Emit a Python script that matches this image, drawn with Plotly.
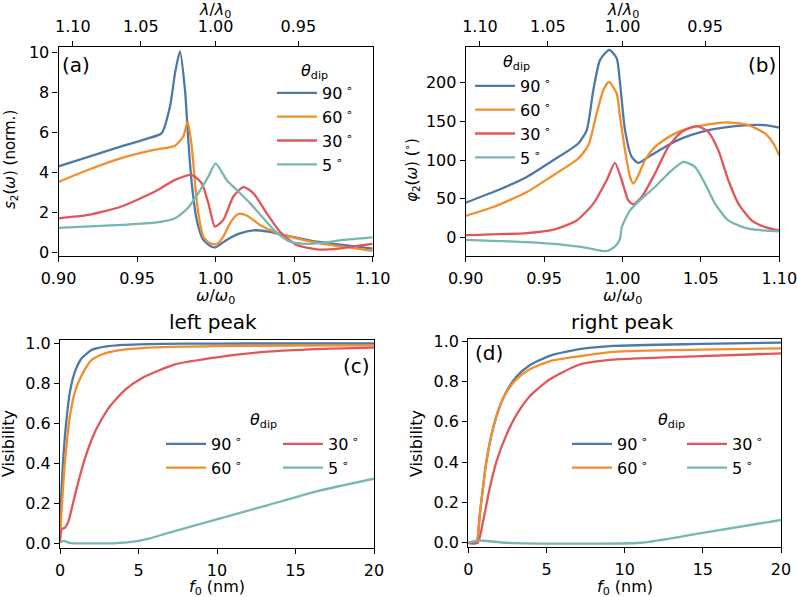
import plotly.graph_objects as go

# colours per dipole angle
colors = {"90": "#4e79a7", "60": "#f28e2b", "30": "#e15759", "5": "#76b7b2"}
angles = ["90", "60", "30", "5"]

# (a) s2(omega), normalised
a_w_90 = [0.90, 0.92, 0.94, 0.955, 0.9657, 0.971, 0.9742, 0.9773, 0.9805, 0.9826, 0.9848, 0.988, 0.9922, 0.9975,
          1.000, 1.007, 1.0155, 1.024, 1.0335, 1.041, 1.052, 1.0644, 1.081, 1.10]
a_s_90 = [4.3, 4.8, 5.3, 5.65, 5.96, 7.3, 8.97, 10.05, 8.13, 5.63, 3.46, 1.62, 0.62, 0.28,
          0.25, 0.62, 0.95, 1.1, 1.03, 0.9, 0.72, 0.53, 0.37, 0.18]
a_w_60 = [0.90, 0.919, 0.94, 0.9614, 0.9742, 0.9795, 0.9822, 0.9848, 0.9869, 0.989, 0.9922, 0.9964, 1.0007,
          1.005, 1.0095, 1.0145, 1.0198, 1.0283, 1.0389, 1.0516, 1.0665, 1.081, 1.10]
a_s_60 = [3.52, 4.13, 4.71, 5.13, 5.33, 5.8, 6.55, 5.3, 3.46, 1.95, 0.78, 0.45, 0.4,
          0.8, 1.5, 1.92, 1.84, 1.37, 0.98, 0.7, 0.45, 0.28, 0.07]
a_w_30 = [0.90, 0.919, 0.94, 0.9614, 0.9742, 0.9848, 0.9911, 0.9954, 0.9996, 1.0049, 1.0113, 1.0176, 1.024,
          1.0325, 1.041, 1.0516, 1.0644, 1.077, 1.0898, 1.10]
a_s_30 = [1.7, 1.87, 2.29, 3.04, 3.62, 3.87, 3.46, 2.46, 1.28, 1.62, 2.79, 3.26, 2.96,
          1.95, 1.03, 0.37, 0.15, 0.17, 0.32, 0.42]
a_w_5 = [0.90, 0.94, 0.9614, 0.9742, 0.9822, 0.989, 0.9954, 1.0, 1.007, 1.0134, 1.0219, 1.0304, 1.0389,
         1.0474, 1.058, 1.0686, 1.081, 1.10]
a_s_5 = [1.22, 1.37, 1.48, 1.7, 2.2, 2.96, 3.79, 4.45, 3.62, 3.12, 2.46, 1.7, 0.98,
         0.53, 0.42, 0.48, 0.62, 0.75]

# (b) phi2(omega), degrees
b_w_90 = [0.90, 0.9176, 0.939, 0.9559, 0.9718, 0.9772, 0.9814, 0.9857, 0.9916, 0.9963, 0.9984, 1.0016, 1.0059,
          1.0101, 1.0165, 1.0271, 1.0378, 1.0505, 1.0654, 1.0802, 1.0909, 1.10]
b_p_90 = [45, 58.7, 78.2, 99.8, 121.4, 138.7, 190.5, 229.4, 242.4, 231.6, 200, 138.7, 104,
          96.3, 104, 117, 128, 136.5, 142.2, 145.2, 145, 142]
b_w_60 = [0.90, 0.9176, 0.939, 0.9559, 0.9718, 0.9782, 0.9835, 0.9878, 0.9914, 0.9963, 0.9984, 1.0016, 1.0048,
          1.0069, 1.0101, 1.0143, 1.0207, 1.0314, 1.0441, 1.0654, 1.0802, 1.0909, 1.0962, 1.10]
b_p_60 = [28, 39.3, 58.7, 80.4, 102, 119, 160, 190.5, 201, 186, 156, 112.8, 78.2,
          69.6, 80.4, 99.8, 117, 132.2, 142.2, 148.7, 145.2, 134.4, 121.4, 106]
b_w_30 = [0.90, 0.939, 0.9559, 0.9708, 0.9814, 0.9899, 0.9952, 0.9995, 1.0037, 1.0069, 1.0122, 1.0207, 1.0292,
          1.0378, 1.0473, 1.0547, 1.0611, 1.0675, 1.0739, 1.0824, 1.0909, 1.10]
b_p_30 = [3, 5.6, 10, 22, 43.7, 73.9, 96.3, 73.9, 48, 42.8, 52.2, 82.6, 117,
          136.5, 143.9, 136.5, 112.8, 73.9, 43.7, 22, 13.4, 9]
b_w_5 = [0.90, 0.939, 0.9601, 0.9772, 0.9899, 0.9952, 0.9984, 0.9995, 1.0048, 1.0122, 1.0207, 1.0292, 1.0388,
         1.0462, 1.0526, 1.059, 1.0675, 1.0802, 1.10]
b_p_5 = [-3, -6, -9, -13.4, -17.7, -11.7, -2, 13.4, 35, 50.2, 65.2, 82.6, 97.6,
         91.1, 69.6, 43.7, 22, 11.3, 7.8]

# (c) visibility, left peak
c_f_90 = [0, 0.11, 0.32, 0.64, 0.96, 1.38, 2.02, 2.87, 4.0, 5.0, 8, 12, 16, 20]
c_v_90 = [0.05, 0.29, 0.54, 0.76, 0.86, 0.925, 0.967, 0.983, 0.992, 0.995, 0.998, 0.999, 0.999, 0.999]
c_f_60 = [0, 0.11, 0.32, 0.64, 0.96, 1.38, 2.02, 2.87, 3.93, 6.05, 10, 15, 20]
c_v_60 = [0.02, 0.175, 0.41, 0.64, 0.76, 0.84, 0.917, 0.95, 0.967, 0.98, 0.986, 0.988, 0.99]
c_f_30 = [0, 0.1, 0.32, 0.53, 0.85, 1.17, 1.59, 2.23, 3.08, 4.14, 5.2, 6.48, 7.32, 9.98, 13.2, 16.35, 20]
c_v_30 = [0.0, 0.07, 0.078, 0.108, 0.208, 0.308, 0.425, 0.558, 0.675, 0.767, 0.825, 0.87, 0.895,
          0.93, 0.958, 0.971, 0.978]
c_f_5 = [0, 0.25, 0.6, 1, 2, 3.4, 4.67, 5.73, 6.8, 9.98, 13.2, 16.35, 20]
c_v_5 = [0.005, 0.012, 0.002, 0.0, 0.0, 0.0, 0.008, 0.025, 0.05, 0.12, 0.19, 0.26, 0.323]

# (d) visibility, right peak
d_f_90 = [0, 0.51, 0.73, 1.15, 1.58, 2.0, 2.43, 3.07, 3.93, 5.2, 7.12, 9.27, 14.9, 20]
d_v_90 = [0, 0, 0.137, 0.40, 0.567, 0.674, 0.749, 0.823, 0.88, 0.927, 0.96, 0.976, 0.986, 0.993]
d_f_60 = [0, 0.51, 0.73, 1.15, 1.58, 2.0, 2.43, 3.07, 3.93, 5.2, 7.12, 9.27, 14.9, 20]
d_v_60 = [0, 0, 0.137, 0.40, 0.567, 0.674, 0.745, 0.81, 0.86, 0.90, 0.925, 0.947, 0.958, 0.964]
d_f_30 = [0, 0.6, 0.94, 1.37, 1.79, 2.43, 3.07, 3.93, 5.2, 7.12, 9.27, 14.9, 20]
d_v_30 = [0, 0, 0.104, 0.27, 0.40, 0.534, 0.633, 0.727, 0.81, 0.884, 0.908, 0.926, 0.939]
d_f_5 = [0, 0.5, 1.0, 2.5, 11, 14.8, 20]
d_v_5 = [0, 0.01, 0.01, 0.0, 0.0, 0.047, 0.113]

lam_ticks = [1.10, 1.05, 1.00, 0.95]

W, H = 797, 597
FONT = "DejaVu Sans"


def px(x):
    return x / W


def py(y):
    return 1 - y / H


panels = {
    "a": ([a_w_90, a_w_60, a_w_30, a_w_5], [a_s_90, a_s_60, a_s_30, a_s_5], "x", "y", ["legend"] * 4),
    "b": ([b_w_90, b_w_60, b_w_30, b_w_5], [b_p_90, b_p_60, b_p_30, b_p_5], "x2", "y2", ["legend2"] * 4),
    "c": ([c_f_90, c_f_60, c_f_30, c_f_5], [c_v_90, c_v_60, c_v_30, c_v_5], "x3", "y3",
          ["legend3", "legend3", "legend4", "legend4"]),
    "d": ([d_f_90, d_f_60, d_f_30, d_f_5], [d_v_90, d_v_60, d_v_30, d_v_5], "x4", "y4",
          ["legend5", "legend5", "legend6", "legend6"]),
}

fig = go.Figure()
for key, (xs, ys, xa, ya, legs) in panels.items():
    for ang, xv, yv, lg in zip(angles, xs, ys, legs):
        fig.add_trace(go.Scatter(
            x=xv, y=yv, xaxis=xa, yaxis=ya, mode="lines",
            line=dict(color=colors[ang], width=2.3, shape="spline", smoothing=0.6),
            name=f"{ang}\u2009<sup>∘</sup>", legend=lg, legendgroup=key + ang,
            hoverinfo="skip"))

# helper traces so the top wavelength axes are drawn
fig.add_trace(go.Scatter(x=[a_w_90[0], a_w_90[-1]], y=[None, None], xaxis="x5", yaxis="y",
                         showlegend=False, hoverinfo="skip"))
fig.add_trace(go.Scatter(x=[b_w_90[0], b_w_90[-1]], y=[None, None], xaxis="x6", yaxis="y2",
                         showlegend=False, hoverinfo="skip"))

tickfont = dict(family=FONT, size=16, color="black")
base = dict(showline=True, linecolor="black", linewidth=1.1, mirror=True, ticks="outside",
            ticklen=5, tickwidth=1.1, tickcolor="black", showgrid=False, zeroline=False,
            tickfont=tickfont, automargin=False, ticklabeloverflow="allow")
xbase = dict(base, ticklabelstandoff=3)
top = dict(ticks="outside", ticklen=5, tickwidth=1.1, tickcolor="black", showgrid=False,
           zeroline=False, showline=False, tickfont=tickfont, automargin=False,
           ticklabeloverflow="allow", ticklabelstandoff=2)

dom_a = [px(58.5), px(372.7)]
dom_b = [px(465.7), px(779.3)]
dom_c = [px(60), px(374)]
dom_d = [px(468.3), px(781)]
ydom_top = [py(255.5), py(46.5)]
ydom_c = [py(547.5), py(339.5)]
ydom_d = [py(547), py(338.5)]

top_vals = [1 / v for v in lam_ticks]
top_text = [f"{v:.2f}" for v in lam_ticks]

fig.update_layout(
    width=W, height=H, margin=dict(l=0, r=0, t=0, b=0, autoexpand=False),
    paper_bgcolor="white", plot_bgcolor="white",
    font=dict(family=FONT, size=16, color="black"),
    xaxis=dict(xbase, domain=dom_a, anchor="y", range=[0.9, 1.1], tickvals=[0.9, 0.95, 1.0, 1.05, 1.1],
               tickformat=".2f"),
    yaxis=dict(base, domain=ydom_top, anchor="x", range=[-0.16, 10.29], dtick=2),
    xaxis2=dict(xbase, domain=dom_b, anchor="y2", range=[0.9, 1.1], tickvals=[0.9, 0.95, 1.0, 1.05, 1.1],
                tickformat=".2f"),
    yaxis2=dict(base, domain=ydom_top, anchor="x2", range=[-23.3, 246.7], dtick=50),
    xaxis3=dict(xbase, domain=dom_c, anchor="y3", range=[0, 20], dtick=5),
    yaxis3=dict(base, domain=ydom_c, anchor="x3", range=[-0.021, 1.019], dtick=0.2, tickformat=".1f"),
    xaxis4=dict(xbase, domain=dom_d, anchor="y4", range=[0, 20], dtick=5),
    yaxis4=dict(base, domain=ydom_d, anchor="x4", range=[-0.021, 1.013], dtick=0.2, tickformat=".1f"),
    xaxis5=dict(top, overlaying="x", side="top", anchor="y", range=[0.9, 1.1], tickvals=top_vals,
                ticktext=top_text),
    xaxis6=dict(top, overlaying="x2", side="top", anchor="y2", range=[0.9, 1.1], tickvals=top_vals,
                ticktext=top_text),
)

leg = dict(bgcolor="rgba(0,0,0,0)", borderwidth=0, font=dict(family=FONT, size=16, color="black"),
           xanchor="left", yanchor="top", itemwidth=40, tracegroupgap=0, itemclick=False)
fig.update_layout(
    legend=dict(leg, x=px(272), y=py(76)),
    legend2=dict(leg, x=px(470), y=py(69)),
    legend3=dict(leg, x=px(161), y=py(427)),
    legend4=dict(leg, x=px(278), y=py(427)),
    legend5=dict(leg, x=px(567), y=py(427)),
    legend6=dict(leg, x=px(682), y=py(427)),
)


def note(text, x, y, size=16, angle=0):
    fig.add_annotation(text=text, x=px(x), y=py(y), xref="paper", yref="paper", showarrow=False,
                       xanchor="center", yanchor="middle", textangle=angle,
                       font=dict(family=FONT, size=size, color="black"))


om = "<i>ω</i>/<i>ω</i><sub>0</sub>"
lam = "<i>λ</i>/<i>λ</i><sub>0</sub>"
theta = "<i>θ</i><sub>dip</sub>"
note(lam, 215, 10)
note(lam, 622.5, 10)
note(om, 215, 296.5)
note(om, 622.5, 296.5)
note("<i>s</i><sub>2</sub>(<i>ω</i>) (norm.)", 10, 160, size=15, angle=-90)
note("<i>φ</i><sub>2</sub>(<i>ω</i>) (<sup>∘</sup>)", 412, 170, size=15, angle=-90)
note("Visibility", 8, 444, angle=-90)
note("Visibility", 416, 444, angle=-90)
note("<i>f</i><sub>0</sub> (nm)", 217, 587)
note("<i>f</i><sub>0</sub> (nm)", 624.7, 587)
note("left peak", 213, 322, size=20)
note("right peak", 622, 322, size=20)
note("(a)", 76, 65, size=20)
note("(b)", 761.7, 65, size=20)
note("(c)", 356.7, 366, size=20)
note("(d)", 489.3, 353, size=20)
note(theta, 314, 71.5)
note(theta, 516, 62.5)
note(theta, 263, 420.5)
note(theta, 671.5, 420.5)

fig.write_html("out.html", config={"displayModeBar": False},
               post_script="document.body.style.margin='0px';")
